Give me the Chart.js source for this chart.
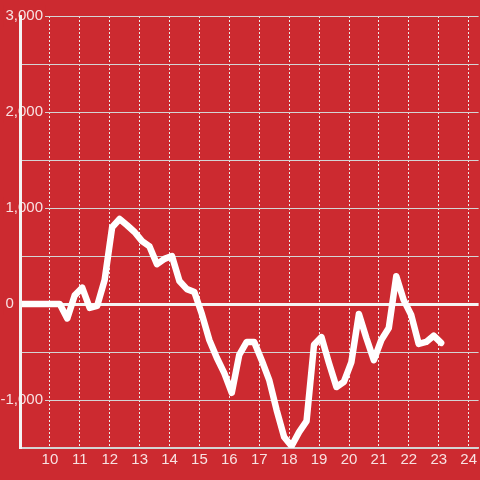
<!DOCTYPE html>
<html>
<head>
<meta charset="utf-8">
<script src="https://cdn.jsdelivr.net/npm/chart.js@4/dist/chart.umd.min.js"></script>
<style>
  html, body { margin: 0; padding: 0; background: #cc2a30; }
  #wrap { width: 480px; height: 480px; position: relative; }
</style>
</head>
<body>
<div id="wrap"><canvas id="c" width="480" height="480"></canvas></div>
<script>
// ---- data ----
const hours = [9.0, 9.33, 9.58, 9.83, 10.08, 10.33, 10.58, 10.83, 11.08, 11.33, 11.58, 11.83,
  12.08, 12.33, 12.58, 12.83, 13.08, 13.33, 13.58, 13.83, 14.08, 14.33, 14.58, 14.83,
  15.08, 15.33, 15.58, 15.83, 16.08, 16.33, 16.58, 16.83, 17.08, 17.33, 17.58, 17.83,
  18.08, 18.33, 18.58, 18.83, 19.08, 19.33, 19.58, 19.83, 20.08, 20.33, 20.58, 20.83,
  21.08, 21.33, 21.58, 21.83, 22.08, 22.33, 22.58, 22.83, 23.08];
const values = [0, 0, 0, 0, 0, 0, -150, 90, 170, -40, -20, 250,
  800, 885, 820, 750, 655, 600, 415, 470, 500, 240, 155, 125,
  -105, -375, -560, -720, -925, -530, -395, -395, -585, -790, -1105, -1385,
  -1480, -1335, -1220, -425, -345, -615, -865, -810, -605, -105, -355, -585,
  -375, -250, 290, 40, -115, -415, -395, -330, -405];
const xTickValues = [10, 11, 12, 13, 14, 15, 16, 17, 18, 19, 20, 21, 22, 23, 24];
const xTickLabels = ['10', '11', '12', '13', '14', '15', '16', '17', '18', '19', '20', '21', '22', '23', '24'];
const yTickValues = [3000, 2000, 1000, 0, -1000];
const yTickLabels = ['3,000', '2,000', '1,000', '0       ', '-1,000'];

// ---- styles ----
const BG = '#cc2a30';
const TEXT = 'rgba(255,255,255,0.86)';
const GRID = '#d4d4d4';
const FONT = { family: '"Liberation Sans", Arial, sans-serif', size: 15 };

const points = hours.map((h, i) => ({ x: h, y: values[i] }));

new Chart(document.getElementById('c'), {
  type: 'line',
  data: {
    datasets: [{
      data: points,
      borderColor: '#ffffff',
      borderWidth: 6.5,
      borderJoinStyle: 'round',
      borderCapStyle: 'round',
      pointRadius: 0,
      tension: 0,
      fill: false
    }]
  },
  options: {
    responsive: false,
    animation: false,
    events: [],
    layout: { padding: { top: 16, left: 0, right: 0, bottom: 0 } },
    plugins: { legend: { display: false }, tooltip: { enabled: false } },
    scales: {
      x: {
        type: 'linear',
        min: 9,
        max: 24.333,
        afterBuildTicks: (s) => { s.ticks = [{ value: 9 }].concat(xTickValues.map(v => ({ value: v }))); },
        afterFit: (s) => { s.height = 32; },
        grid: {
          drawTicks: false,
          color: (ctx) => ctx.tick && ctx.tick.value === 9 ? 'rgba(0,0,0,0)' : '#ececec',
          lineWidth: 1
        },
        border: { display: true, color: GRID, width: 1.5, dash: [2, 2] },
        ticks: {
          color: TEXT,
          font: FONT,
          padding: 3,
          maxRotation: 0,
          autoSkip: false,
          callback: (v) => { const i = xTickValues.indexOf(v); return i >= 0 ? xTickLabels[i] : ''; }
        }
      },
      y: {
        min: -1500,
        max: 3000,
        afterBuildTicks: (s) => {
          const t = [];
          for (const v of [-1500, -1000, -500, 0, 500, 1000, 1500, 2000, 2500, 3000]) t.push({ value: v });
          s.ticks = t;
        },
        afterFit: (s) => { s.width = 20; },
        grid: {
          drawTicks: false,
          color: (ctx) => ctx.tick && ctx.tick.value === 0 ? '#f4f4f4' : GRID,
          lineWidth: (ctx) => ctx.tick && ctx.tick.value === 0 ? 3 : 1
        },
        border: { display: true, color: '#f4f4f4', width: 3, z: 1 },
        ticks: {
          color: TEXT,
          font: FONT,
          mirror: true,
          crossAlign: 'far',
          padding: -19.5,
          autoSkip: false,
          showLabelBackdrop: true,
          backdropPadding: 2,
          backdropColor: (ctx) => ctx.tick && yTickValues.indexOf(ctx.tick.value) >= 0 ? BG : 'rgba(0,0,0,0)',
          callback: (v) => { const i = yTickValues.indexOf(v); return i >= 0 ? yTickLabels[i] : ''; }
        }
      }
    }
  }
});
</script>
</body>
</html>
